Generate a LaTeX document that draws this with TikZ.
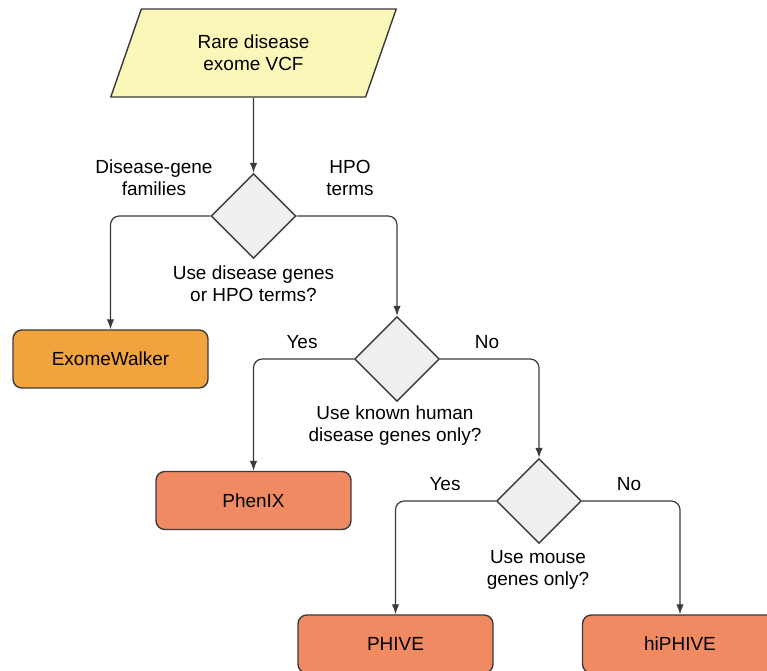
\documentclass[tikz,border=0pt]{standalone}
\usepackage{fontspec}
\setmainfont{Liberation Sans}
\usetikzlibrary{shapes.geometric, arrows.meta, positioning}
\definecolor{inputyellow}{HTML}{FBF7B8}
\definecolor{choicegrey}{HTML}{EFEFEF}
\definecolor{walkerorange}{HTML}{F1A33D}
\definecolor{toolsalmon}{HTML}{EF8A63}
\definecolor{edgegrey}{HTML}{3A3A3A}
\tikzset{
  vcf/.style={
    trapezium, trapezium left angle=69.4, trapezium right angle=110.6,
    trapezium stretches=true, draw=edgegrey, fill=inputyellow, line width=0.8pt,
    minimum width=5.72cm, minimum height=1.76cm,
    align=center, font=\fontsize{10.8}{12.6}\selectfont, inner sep=2pt,
  },
  choice/.style={
    diamond, aspect=1, draw=edgegrey, fill=choicegrey, line width=0.8pt,
    minimum size=1.7cm, inner sep=0pt,
  },
  tool/.style={
    rectangle, draw=edgegrey, fill=toolsalmon, line width=0.8pt,
    rounded corners=5pt, minimum width=3.9cm, minimum height=1.16cm,
    align=center, font=\fontsize{10.8}{12.6}\selectfont, inner sep=2pt,
  },
  walker/.style={tool, fill=walkerorange},
  arrow/.style={
    -{Latex[length=2mm, width=1.5mm]}, line width=0.7pt, draw=edgegrey,
    rounded corners=5pt,
  },
  tlabel/.style={
    font=\fontsize{10.8}{12.6}\selectfont, align=center, inner sep=0pt,
  }
}

\begin{document}
\begin{tikzpicture}[x=0.02cm, y=-0.02cm]

  \useasboundingbox (0,0) rectangle (767,671);

  \node[vcf] (input) at (253.5, 53) {Rare disease\\exome VCF};

  \node[choice] (q1) at (253.5, 216) {};
  \node[choice] (q2) at (397, 359) {};
  \node[choice] (q3) at (539, 501) {};

  \node[walker] (exome) at (110.5, 359) {ExomeWalker};
  \node[tool] (phenix) at (253.5, 500.5) {PhenIX};
  \node[tool] (phive) at (395.5, 644) {PHIVE};
  \node[tool] (hiphive) at (680, 644) {hiPHIVE};

  % questions and branch labels
  \node[tlabel] (q1txt) at (253.5, 284) {Use disease genes\\or HPO terms?};
  \node[tlabel] (q2txt) at (395, 426) {Use known human\\disease genes only?};
  \node[tlabel] (q3txt) at (538, 570) {Use mouse\\genes only?};
  \node[tlabel] (famlbl) at (154, 178) {Disease-gene\\families};
  \node[tlabel] (hpolbl) at (350, 178) {HPO\\terms};
  \node[tlabel] (yes2) at (302, 342) {Yes};
  \node[tlabel] (no2) at (487, 342) {No};
  \node[tlabel] (yes3) at (445, 484) {Yes};
  \node[tlabel] (no3) at (629, 484) {No};

  \draw[arrow] (input.south) -- (q1.north);
  \draw[arrow] (q1.west) -| (exome.north);
  \draw[arrow] (q1.east) -| (q2.north);
  \draw[arrow] (q2.west) -| (phenix.north);
  \draw[arrow] (q2.east) -| (q3.north);
  \draw[arrow] (q3.west) -| (phive.north);
  \draw[arrow] (q3.east) -| (hiphive.north);

\end{tikzpicture}
\end{document}
